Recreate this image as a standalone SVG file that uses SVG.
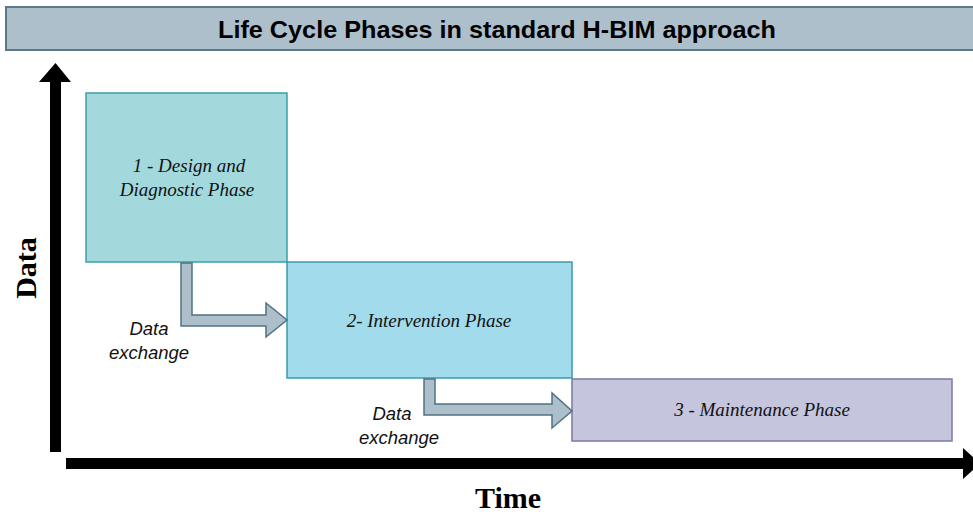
<svg xmlns="http://www.w3.org/2000/svg" width="973" height="516" viewBox="0 0 973 516">
<style>
.phase{font-family:"Liberation Serif","Times New Roman",serif;font-style:italic;font-size:19px;fill:#111;text-anchor:middle}
.lbl{font-family:"Liberation Sans",Arial,sans-serif;font-style:italic;font-size:18.5px;fill:#111;text-anchor:middle}
.axis{font-family:"Liberation Serif","Times New Roman",serif;font-weight:bold;font-size:30px;fill:#000;text-anchor:middle}
.xchg{fill:#adbfcb;stroke:#4f7282;stroke-width:1.5}
</style>
<rect width="973" height="516" fill="#fff"/>
<g id="title">
<rect x="6" y="7" width="972" height="43" fill="#adbfcb" stroke="#5a7a8a" stroke-width="2"/>
<text x="497" y="38" font-family="'Liberation Sans',Arial,sans-serif" font-weight="bold" font-size="24" textLength="558" lengthAdjust="spacingAndGlyphs" text-anchor="middle" fill="#000">Life Cycle Phases in standard H-BIM approach</text>
</g>
<g id="axes">
<polygon points="50,452 61,452 61,82 71,82 55.5,63 39,82 50,82" fill="#000"/>
<polygon points="66,458 963,458 963,448 980,463.5 963,479 963,469 66,469" fill="#000"/>
<text class="axis" transform="translate(36,268) rotate(-90)">Data</text>
<text class="axis" x="508" y="508">Time</text>
</g>
<g id="phase1">
<rect x="86" y="93" width="201" height="169" fill="#a3d9dc" stroke="#3aa0a8" stroke-width="1.5"/>
<text class="phase" x="189" y="172">1 - Design and</text>
<text class="phase" x="187" y="196">Diagnostic Phase</text>
</g>
<g id="phase2">
<rect x="287" y="262" width="285" height="116" fill="#a2dbeb" stroke="#3a9ab0" stroke-width="1.5"/>
<text class="phase" x="429" y="327">2- Intervention Phase</text>
</g>
<g id="phase3">
<rect x="572" y="379" width="380" height="62" fill="#c5c5dd" stroke="#7a7aa0" stroke-width="1.5"/>
<text class="phase" x="762" y="416" font-size="17">3 - Maintenance Phase</text>
</g>
<g id="connectors">
<polygon class="xchg" points="181,263 192,263 192,315 266,315 266,303 287,320 266,337 266,326 181,326"/>
<polygon class="xchg" points="424,379 435,379 435,404 552,404 552,393 572,411 552,428 552,415 424,415"/>
<text class="lbl" x="149" y="335">Data</text>
<text class="lbl" x="149" y="359">exchange</text>
<text class="lbl" x="392" y="420">Data</text>
<text class="lbl" x="399" y="444">exchange</text>
</g>
</svg>
